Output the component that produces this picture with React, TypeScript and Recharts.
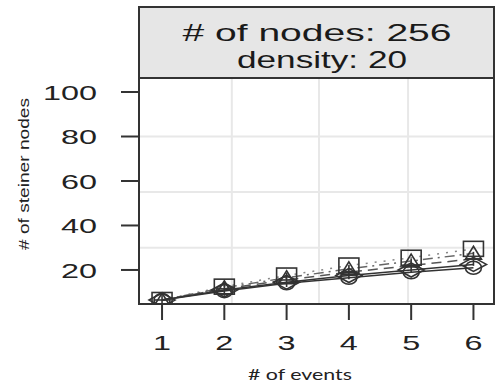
import { CartesianGrid, Customized, Line, LineChart, XAxis, YAxis } from "recharts";

// # of events
const events = [1, 2, 3, 4, 5, 6];

// # of steiner nodes, one list per algorithm
const squareSeries = [6.5, 12.5, 17.5, 22, 25.5, 29.5];
const triangleSeries = [6.5, 12, 16.5, 20.5, 24, 27.5];
const plusSeries = [6.5, 11.5, 15.5, 19, 22, 25];
const diamondSeries = [6.5, 11, 14.5, 17.5, 20, 22.5];
const circleSeries = [6.5, 10.5, 14, 16.5, 19, 21];

const xTicks = [1, 2, 3, 4, 5, 6];
const yTicks = [20, 40, 60, 80, 100];
const xGridValues = [2.12, 3.52, 4.95];
const yGridValues = [30, 55, 80];

const stripLines = ["# of nodes: 256", "density: 20"];

const W = 499;
const H = 383;
const PLOT = { left: 139, right: 494, top: 78, bottom: 304 };
const STRIP_TOP = 7;
const INK = "#333";

const data = events.map((e, i) => ({
  event: e,
  square: squareSeries[i],
  triangle: triangleSeries[i],
  plus: plusSeries[i],
  diamond: diamondSeries[i],
  circle: circleSeries[i],
}));

type Shape = "square" | "triangle" | "plus" | "diamond" | "circle";

function makeDot(shape: Shape) {
  return (props: any) => {
    const { cx, cy, index } = props;
    const key = `${shape}-${index}`;
    const common = { stroke: INK, strokeWidth: 1.6, fill: "none" };
    if (cx == null || cy == null) return <g key={key} />;
    switch (shape) {
      case "square":
        return <rect key={key} x={cx - 10} y={cy - 7.5} width={20} height={15} {...common} />;
      case "triangle":
        return (
          <polygon
            key={key}
            points={`${cx},${cy - 7} ${cx + 8},${cy + 6} ${cx - 8},${cy + 6}`}
            {...common}
          />
        );
      case "plus":
        return (
          <g key={key} {...common}>
            <line x1={cx - 8} y1={cy} x2={cx + 8} y2={cy} />
            <line x1={cx} y1={cy - 7} x2={cx} y2={cy + 7} />
          </g>
        );
      case "diamond":
        return (
          <polygon
            key={key}
            points={`${cx - 13},${cy} ${cx},${cy - 7} ${cx + 13},${cy} ${cx},${cy + 7}`}
            {...common}
          />
        );
      default:
        return <ellipse key={key} cx={cx} cy={cy} rx={8} ry={6.5} {...common} />;
    }
  };
}

function YTick({ x, y, payload }: any) {
  const label = String(payload.value);
  return (
    <text
      x={x}
      y={y}
      dy="0.36em"
      textAnchor="end"
      fontFamily="Liberation Sans, Arial, sans-serif"
      fontSize={21}
      fill="#222"
      textLength={label.length * 18}
      lengthAdjust="spacingAndGlyphs"
    >
      {label}
    </text>
  );
}

function XTick({ x, y, payload }: any) {
  const label = String(payload.value);
  return (
    <text
      x={x}
      y={y + 28}
      textAnchor="middle"
      fontFamily="Liberation Sans, Arial, sans-serif"
      fontSize={21}
      fill="#222"
      textLength={label.length * 18}
      lengthAdjust="spacingAndGlyphs"
    >
      {label}
    </text>
  );
}

function StripAndFrame() {
  return (
    <g>
      <rect
        x={PLOT.left}
        y={STRIP_TOP}
        width={PLOT.right - PLOT.left}
        height={PLOT.top - STRIP_TOP}
        fill="#e6e6e6"
        stroke={INK}
        strokeWidth={2}
      />
      <text
        x={317}
        y={41}
        textAnchor="middle"
        fontFamily="Liberation Sans, Arial, sans-serif"
        fontSize={24}
        fill="#1a1a1a"
        textLength={269}
        lengthAdjust="spacingAndGlyphs"
      >
        {stripLines[0]}
      </text>
      <text
        x={322}
        y={68}
        textAnchor="middle"
        fontFamily="Liberation Sans, Arial, sans-serif"
        fontSize={24}
        fill="#1a1a1a"
        textLength={170}
        lengthAdjust="spacingAndGlyphs"
      >
        {stripLines[1]}
      </text>
      <rect
        x={PLOT.left}
        y={PLOT.top}
        width={PLOT.right - PLOT.left}
        height={PLOT.bottom - PLOT.top}
        fill="none"
        stroke={INK}
        strokeWidth={2}
      />
      <text
        x={300}
        y={380}
        textAnchor="middle"
        fontFamily="Lato, Open Sans, sans-serif"
        fontSize={16}
        fill="#222"
        textLength={104}
        lengthAdjust="spacingAndGlyphs"
      >
        # of events
      </text>
      <text
        x={29}
        y={174}
        transform="rotate(-90 29 174)"
        textAnchor="middle"
        fontFamily="Liberation Sans, Arial, sans-serif"
        fontSize={15}
        fill="#222"
        textLength={152}
        lengthAdjust="spacingAndGlyphs"
      >
        # of steiner nodes
      </text>
    </g>
  );
}

export default function App() {
  return (
    <div style={{ position: "absolute", left: 0, top: 0, width: W, height: H, background: "#fff" }}>
      <LineChart
        width={W}
        height={H}
        data={data}
        margin={{ top: PLOT.top, right: W - PLOT.right, bottom: 0, left: 0 }}
      >
        <CartesianGrid
          stroke="#e8e8e8"
          strokeWidth={2}
          horizontalValues={yGridValues}
          verticalValues={xGridValues}
        />
        <XAxis
          dataKey="event"
          type="number"
          domain={[0.63, 6.33]}
          ticks={xTicks}
          allowDataOverflow
          height={H - PLOT.bottom}
          axisLine={false}
          tickLine={{ stroke: INK, strokeWidth: 2 }}
          tickSize={16}
          tick={<XTick />}
          interval={0}
        />
        <YAxis
          type="number"
          domain={[4.7, 106.3]}
          ticks={yTicks}
          allowDataOverflow
          width={PLOT.left}
          axisLine={false}
          tickLine={{ stroke: INK, strokeWidth: 2 }}
          tickSize={18}
          tickMargin={24}
          tick={<YTick />}
          interval={0}
        />
        <Line dataKey="square" stroke="#888" strokeWidth={1.5} strokeDasharray="2 7" dot={makeDot("square")} isAnimationActive={false} />
        <Line dataKey="triangle" stroke="#666" strokeWidth={1.5} strokeDasharray="10 5 2 5" dot={makeDot("triangle")} isAnimationActive={false} />
        <Line dataKey="plus" stroke="#555" strokeWidth={1.5} strokeDasharray="10 6" dot={makeDot("plus")} isAnimationActive={false} />
        <Line dataKey="diamond" stroke={INK} strokeWidth={1.5} dot={makeDot("diamond")} isAnimationActive={false} />
        <Line dataKey="circle" stroke={INK} strokeWidth={1.5} dot={makeDot("circle")} isAnimationActive={false} />
        <Customized component={<StripAndFrame />} />
      </LineChart>
    </div>
  );
}
